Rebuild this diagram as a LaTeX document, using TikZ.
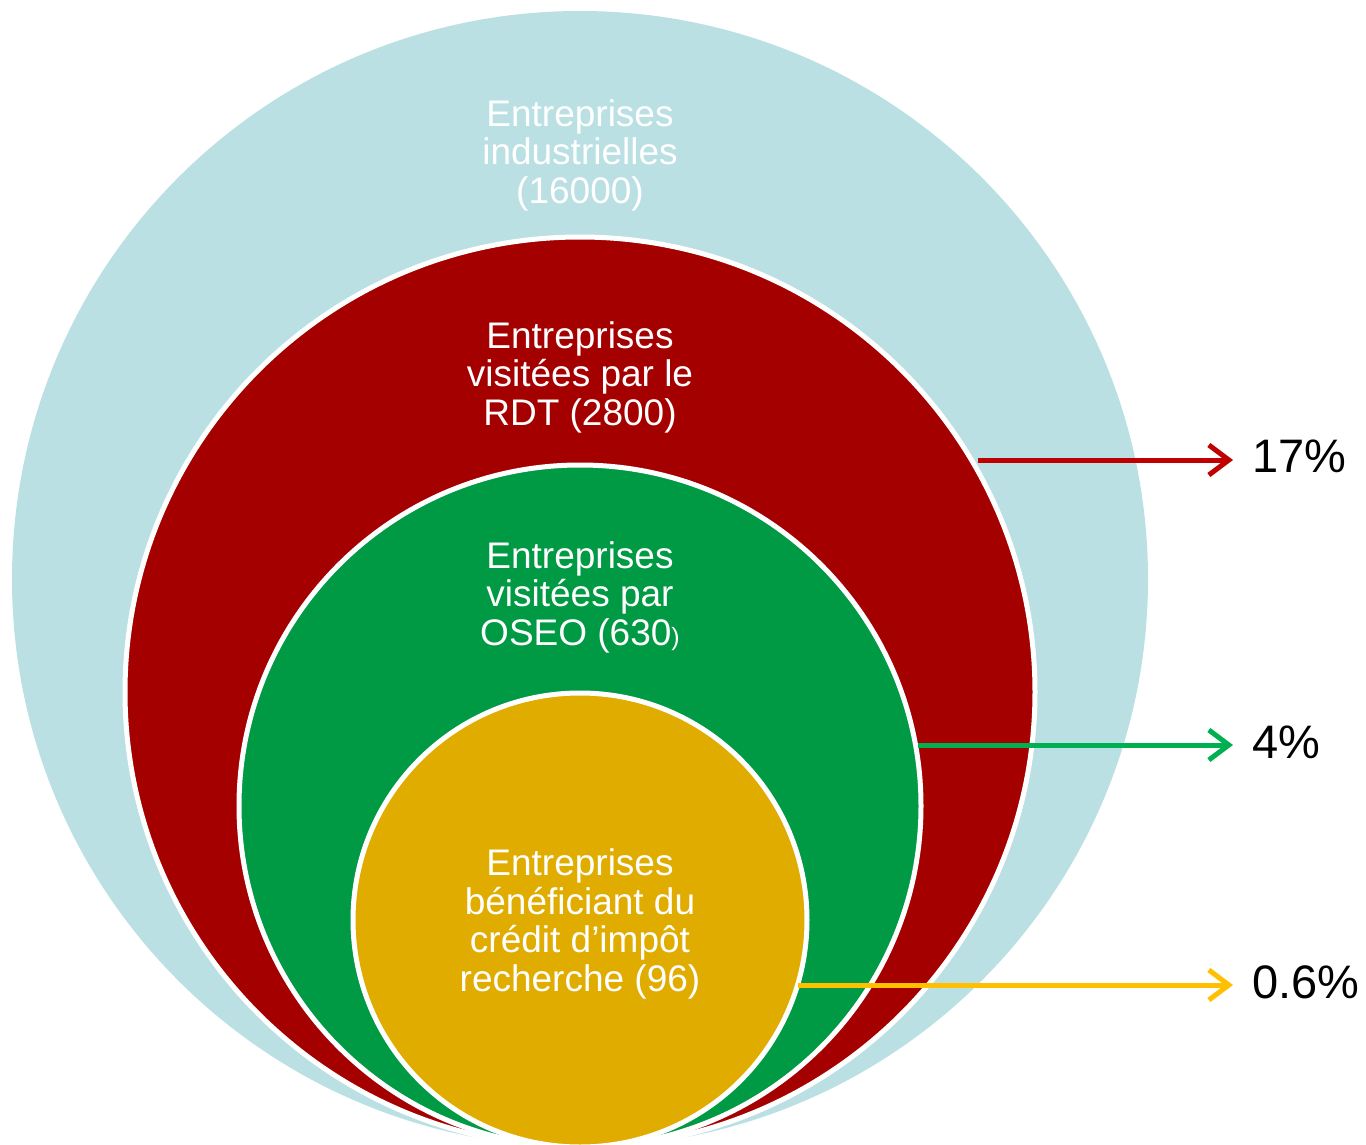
\documentclass[tikz,border=0pt]{standalone}
\usepackage{fontspec}
\setmainfont{Liberation Sans}
\usetikzlibrary{arrows.meta}
\definecolor{indblue}{RGB}{186,224,227}
\definecolor{rdtred}{RGB}{165,0,0}
\definecolor{oseogreen}{RGB}{0,153,68}
\definecolor{ciryellow}{RGB}{224,172,0}
\definecolor{arrred}{RGB}{192,0,0}
\definecolor{arrgreen}{RGB}{0,176,80}
\definecolor{arryellow}{RGB}{255,192,0}

\begin{document}
\begin{tikzpicture}[x=1pt,y=-1pt,
    circtext/.style={text=white,align=center,inner sep=0pt,font=\fontsize{37}{38.5}\selectfont},
    pct/.style={anchor=west,inner ysep=0pt,inner xsep=19pt,font=\fontsize{47}{47}\selectfont},
    share/.style={line width=5pt,-{Straight Barb[length=20pt,width=30pt]}}]
          \useasboundingbox (0,0) rectangle (1366,1145);

          % nested circles
          \fill[indblue] (580,579) circle (568pt);
          \filldraw[fill=rdtred,draw=white,line width=5pt] (580,692) circle (455pt);
          \filldraw[fill=oseogreen,draw=white,line width=5pt] (580,806) circle (341pt);
          \filldraw[fill=ciryellow,draw=white,line width=5pt] (580,920) circle (227pt);

          % circle texts
          \node[circtext] (indtext) at (580,155) {Entreprises\\industrielles\\(16000)};
          \node[circtext] (rdttext) at (580,377) {Entreprises\\visitées par le\\RDT (2800)};
          \node[circtext] (oseotext) at (580,597) {Entreprises\\visitées par\\OSEO (630{\fontsize{25}{25}\selectfont)}};
          \node[circtext] (cirtext) at (580,924) {Entreprises\\bénéficiant du\\crédit d’impôt\\recherche (96)};

          % shares
          \node[pct] (rdtpct) at (1233,456) {17\%};
          \node[pct] (oseopct) at (1233,742) {4\%};
          \node[pct] (cirpct) at (1233,982) {0.6\%};
          \coordinate (rdtfrom) at (978,460);
          \coordinate (oseofrom) at (918,745);
          \coordinate (cirfrom) at (798,985);
          \draw[share,arrred] (rdtfrom) -- (rdtfrom -| rdtpct.west);
          \draw[share,arrgreen] (oseofrom) -- (oseofrom -| oseopct.west);
          \draw[share,arryellow] (cirfrom) -- (cirfrom -| cirpct.west);
        \end{tikzpicture}
\end{document}
